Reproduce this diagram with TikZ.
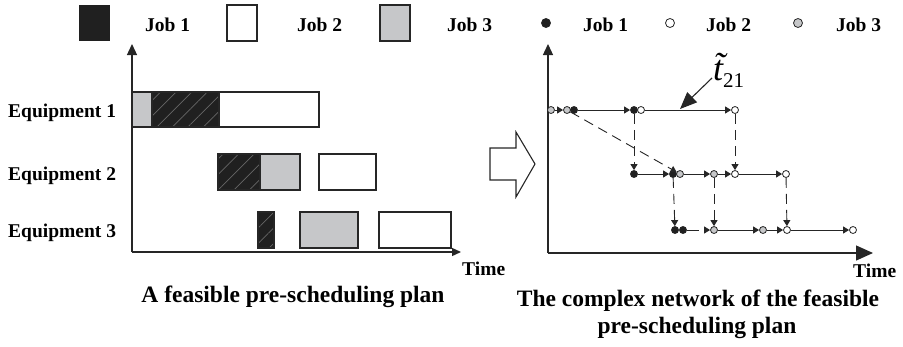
\documentclass[tikz,border=0pt]{standalone}
\usepackage{fontspec}
\setmainfont{Liberation Serif}
\usetikzlibrary{arrows.meta,patterns.meta}

\definecolor{jobgray}{RGB}{198,199,201}
\definecolor{jobblack}{RGB}{32,32,32}

\begin{document}
\begin{tikzpicture}[x=1pt,y=-1pt,
  bar/.style={draw=black!85,line width=1.1pt},
  lab/.style={font=\fontsize{19.5}{23}\selectfont\bfseries,inner sep=0pt},
  captxt/.style={font=\fontsize{23.5}{28}\selectfont\bfseries,inner sep=0pt},
  axis/.style={line width=1.3pt,draw=black!85},
  dot/.style={circle,draw=black!85,line width=0.8pt,inner sep=0pt,minimum size=7pt},
  bdot/.style={dot,fill=jobblack},
  wdot/.style={dot,fill=white},
  gdot/.style={dot,fill=jobgray},
  edge/.style={line width=0.9pt,draw=black!85,-{Triangle[length=6pt,width=7pt]}},
  plain/.style={line width=0.9pt,draw=black!85},
  dep/.style={edge,dash pattern=on 10pt off 6pt}
]
\useasboundingbox (0,0) rectangle (903,346);

% ---------- legend ----------
\fill[jobblack] (79,5) rectangle (110,41);
\node[lab,anchor=base west] (lj1) at (145,31) {Job 1};
\draw[bar,fill=white] (227,5) rectangle (257,41);
\node[lab,anchor=base west] (lj2) at (297,31) {Job 2};
\draw[bar,fill=jobgray] (380,5) rectangle (410,41);
\node[lab,anchor=base west] (lj3) at (447,31) {Job 3};

\node[bdot,minimum size=9pt] (lb) at (546,23) {};
\node[lab,anchor=base west] (lk1) at (583,31) {Job 1};
\node[wdot,minimum size=9pt] (lw) at (670,23) {};
\node[lab,anchor=base west] (lk2) at (706,31) {Job 2};
\node[gdot,minimum size=9pt] (lg) at (798,23) {};
\node[lab,anchor=base west] (lk3) at (836,31) {Job 3};

% ---------- Gantt chart ----------
\draw[axis,-{Triangle[length=11pt,width=10pt]}] (132,252) -- (132,44);
\draw[axis,-{Triangle[length=9pt,width=8pt]}] (132,252) -- (461,252);
\node[lab,anchor=base west] (tl) at (462,275) {Time};

\node[lab,anchor=base west] (e1) at (8,117) {Equipment 1};
\node[lab,anchor=base west] (e2) at (8,180) {Equipment 2};
\node[lab,anchor=base west] (e3) at (8,237) {Equipment 3};

% equipment 1
\fill[jobgray] (132,92) rectangle (152,127);
\fill[jobblack] (152,92) rectangle (219,127);
\fill[pattern={Lines[angle=45,distance=11pt,line width=0.7pt]},pattern color=black!60] (152,92) rectangle (219,127);
\draw[bar] (132,92) rectangle (152,127) (152,92) rectangle (219,127) (219,92) rectangle (319,127);
% equipment 2
\fill[jobblack] (218,154) rectangle (260,190);
\fill[pattern={Lines[angle=45,distance=11pt,line width=0.7pt]},pattern color=black!60] (218,154) rectangle (260,190);
\fill[jobgray] (260,154) rectangle (300,190);
\draw[bar] (218,154) rectangle (260,190) (260,154) rectangle (300,190) (319,154) rectangle (376,190);
% equipment 3
\fill[jobblack] (258,212) rectangle (274,248);
\fill[pattern={Lines[angle=45,distance=11pt,line width=0.7pt]},pattern color=black!60] (258,212) rectangle (274,248);
\draw[bar] (258,212) rectangle (274,248);
\draw[bar,fill=jobgray] (300,212) rectangle (358,248);
\draw[bar,fill=white] (379,212) rectangle (451,248);

\node[captxt,anchor=base] (c1) at (293,302) {A feasible pre-scheduling plan};

% ---------- transition arrow ----------
\draw[line width=1.1pt,draw=black!85,fill=white]
  (490,148) -- (516,148) -- (516,132) -- (535,164) -- (516,197) -- (516,180) -- (490,180) -- cycle;

% ---------- network ----------
\draw[axis,-{Triangle[length=11pt,width=10pt]}] (548,253) -- (548,44);
\draw[axis,-{Triangle[length=17pt,width=15pt]}] (548,253) -- (873,253);
\node[lab,anchor=base west] (tr) at (853,277) {Time};

% row 1
\node[gdot] (g1) at (551,110) {};
\node[gdot] (g2) at (567,110) {};
\node[bdot] (b1) at (574,110) {};
\node[bdot] (b2) at (634,110) {};
\node[wdot] (w1) at (641,110) {};
\node[wdot] (w2) at (735,110) {};
% row 2
\node[bdot] (b3) at (634,174) {};
\node[bdot] (b4) at (673,174) {};
\node[gdot] (g3) at (680,174) {};
\node[gdot] (g4) at (714,174) {};
\node[wdot] (w3) at (735,174) {};
\node[wdot] (w4) at (786,174) {};
% row 3
\node[bdot] (b5) at (675,230) {};
\node[bdot] (b6) at (683,230) {};
\coordinate (gapa) at (699,230);
\coordinate (gapb) at (704,230);
\node[gdot] (g5) at (714,230) {};
\node[gdot] (g6) at (763,230) {};
\node[wdot] (w5) at (787,230) {};
\node[wdot] (w6) at (853,230) {};

% machine sequences
\draw[edge] (g1) -- (g2);
\draw[edge] (b1) -- (b2);
\draw[edge] (w1) -- (w2);
\draw[edge] (b3) -- (b4);
\draw[edge] (g3) -- (g4);
\draw[edge] (g4) -- (w3);
\draw[edge] (w3) -- (w4);
\draw[plain] (b6) -- (gapa);
\draw[edge] (gapb) -- (g5);
\draw[edge] (g5) -- (g6);
\draw[edge] (g6) -- (w5);
\draw[edge] (w5) -- (w6);

% job routes
\draw[dep] (b2) -- (b3);
\draw[dep] (w2) -- (w3);
\draw[dep] (g2) -- (g3);
\draw[dep] (b4) -- (b5);
\draw[dep] (g4) -- (g5);
\draw[dep] (w4) -- (w5);

% time label on the machine-1 arc
\node[inner sep=0pt,anchor=base west] (tt) at (713,80)
  {\fontsize{36}{40}\selectfont\itshape\~{t}\upshape\raisebox{-7pt}{\fontsize{21}{24}\selectfont 21}};
\coordinate (tp) at (680,109);
\draw[line width=1.1pt,draw=black!85,-{Triangle[length=17pt,width=14pt]}] (712,78) -- (tp);

\node[captxt,anchor=base] (c2) at (698,306) {The complex network of the feasible};
\node[captxt,anchor=base] (c3) at (697,333) {pre-scheduling plan};
\end{tikzpicture}
\end{document}
